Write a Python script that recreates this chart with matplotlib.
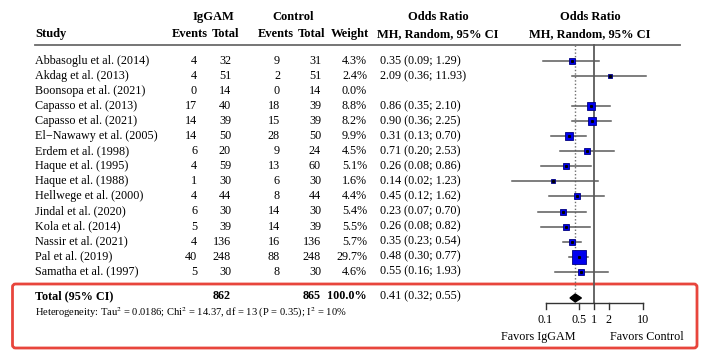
import numpy as np
import matplotlib
matplotlib.use('Agg')
import matplotlib.pyplot as plt
from matplotlib.patches import FancyBboxPatch

# DATA
studies = ['Abbasoglu et al. (2014)', 'Akdag et al. (2013)', 'Boonsopa et al. (2021)',
           'Capasso et al. (2013)', 'Capasso et al. (2021)', 'El\u2212Nawawy et al. (2005)',
           'Erdem et al. (1998)', 'Haque et al. (1995)', 'Haque et al. (1988)',
           'Hellwege et al. (2000)', 'Jindal et al. (2020)', 'Kola et al. (2014)',
           'Nassir et al. (2021)', 'Pal et al. (2019)', 'Samatha et al. (1997)']
ev_ig = [4, 4, 0, 17, 14, 14, 6, 4, 1, 4, 6, 5, 4, 40, 5]
tot_ig = [32, 51, 14, 40, 39, 50, 20, 59, 30, 44, 30, 39, 136, 248, 30]
ev_ct = [9, 2, 0, 18, 15, 28, 9, 13, 6, 8, 14, 14, 16, 88, 8]
tot_ct = [31, 51, 14, 39, 39, 50, 24, 60, 30, 44, 30, 39, 136, 248, 30]
weight = [4.3, 2.4, 0.0, 8.8, 8.2, 9.9, 4.5, 5.1, 1.6, 4.4, 5.4, 5.5, 5.7, 29.7, 4.6]
odds = [0.35, 2.09, np.nan, 0.86, 0.90, 0.31, 0.71, 0.26, 0.14, 0.45, 0.23, 0.26, 0.35, 0.48, 0.55]
ci_lo = [0.09, 0.36, np.nan, 0.35, 0.36, 0.13, 0.20, 0.08, 0.02, 0.12, 0.07, 0.08, 0.23, 0.30, 0.16]
ci_hi = [1.29, 11.93, np.nan, 2.10, 2.25, 0.70, 2.53, 0.86, 1.23, 1.62, 0.70, 0.82, 0.54, 0.77, 1.93]

total_ig = 862
total_ct = 865
pooled = 0.41
pooled_lo = 0.32
pooled_hi = 0.55
het_text = ('Heterogeneity: Tau$^2$ = 0.0186; Chi$^2$ = 14.37, df = 13 (P = 0.35); '
            'I$^2$ = 10%')
axis_ticks = [0.1, 0.5, 1, 2, 10]
axis_labels = ['0.1', '0.5', '1', '2', '10']

# LAYOUT (pixel coordinates, y downwards)
W, H = 704, 354
ROW0 = 61
ROW_DY = 15.05
Y_TOTAL = 296
Y_HET = 313
Y_RULE = 45
Y_AXIS = 303

plt.rcParams['font.family'] = ['Liberation Serif', 'DejaVu Serif']
plt.rcParams['mathtext.fontset'] = 'stix'
FS = 8.7

fig = plt.figure(figsize=(W / 100, H / 100), dpi=100)
ax = fig.add_axes([0, 0, 1, 1])
ax.set_xlim(0, W)
ax.set_ylim(H, 0)
ax.axis('off')

# forest plot axes with log scale: 1 sits at x=594, one decade ~48.5 px
left_px, right_px, one_px, dec_px = 490, 690, 594, 48.5
fx = fig.add_axes([left_px / W, 0, (right_px - left_px) / W, 1])
fx.set_xscale('log')
fx.set_xlim(10 ** (-(one_px - left_px) / dec_px), 10 ** ((right_px - one_px) / dec_px))
fx.set_ylim(H, 0)
fx.axis('off')
fx.patch.set_alpha(0)

# header
hb = dict(fontsize=9, fontweight='bold', va='center')
ax.text(35, 34, 'Study', ha='left', **hb)
ax.text(213, 17, 'IgGAM', ha='center', **hb)
ax.text(190, 34, 'Events', ha='center', **hb)
ax.text(226, 34, 'Total', ha='center', **hb)
ax.text(293, 17, 'Control', ha='center', **hb)
ax.text(276, 34, 'Events', ha='center', **hb)
ax.text(311, 34, 'Total', ha='center', **hb)
ax.text(350, 34, 'Weight', ha='center', **hb)
ax.text(438, 17, 'Odds Ratio', ha='center', **hb)
ax.text(438, 34, 'MH, Random, 95% CI', ha='center', **hb)
ax.text(590, 17, 'Odds Ratio', ha='center', **hb)
ax.text(590, 34, 'MH, Random, 95% CI', ha='center', **hb)
ax.plot([35, 680], [Y_RULE, Y_RULE], color='#6a6a6a', lw=1.3)

# study rows
for i, name in enumerate(studies):
    y = ROW0 + ROW_DY * i
    ax.text(35, y, name, ha='left', va='center', fontsize=FS)
    ax.text(197, y, str(ev_ig[i]), ha='right', va='center', fontsize=FS)
    ax.text(231, y, str(tot_ig[i]), ha='right', va='center', fontsize=FS)
    ax.text(280, y, str(ev_ct[i]), ha='right', va='center', fontsize=FS)
    ax.text(321, y, str(tot_ct[i]), ha='right', va='center', fontsize=FS)
    ax.text(367, y, '%.1f%%' % weight[i], ha='right', va='center', fontsize=FS)
    if not np.isnan(odds[i]):
        ax.text(380, y, '%.2f (%.2f; %.2f)' % (odds[i], ci_lo[i], ci_hi[i]),
                ha='left', va='center', fontsize=FS)
        fx.plot([ci_lo[i], ci_hi[i]], [y, y], color='#5a5a5a', lw=1.1, zorder=2)
        side = 14 * np.sqrt(weight[i] / max(weight)) * 0.72
        fx.plot(odds[i], y, marker='s', ms=side, mfc='#0000ee', mec='#000080',
                mew=0.6, zorder=3)
        fx.plot(odds[i], y, marker='s', ms=1.2, color='black', zorder=4)

# total row
tb = dict(fontsize=FS, fontweight='bold', va='center')
ax.text(35, Y_TOTAL, 'Total (95% CI)', ha='left', **tb)
ax.text(231, Y_TOTAL, str(total_ig), ha='right', **tb)
ax.text(321, Y_TOTAL, str(total_ct), ha='right', **tb)
ax.text(367, Y_TOTAL, '100.0%', ha='right', **tb)
ax.text(380, Y_TOTAL, '%.2f (%.2f; %.2f)' % (pooled, pooled_lo, pooled_hi),
        ha='left', va='center', fontsize=FS)
ax.text(35, Y_HET, het_text, ha='left', va='center', fontsize=7.6)

# reference lines
fx.plot([1, 1], [Y_RULE, Y_AXIS], color='#5a5a5a', lw=1.3, zorder=1)
fx.plot([pooled, pooled], [Y_RULE, Y_TOTAL - 4], color='#6f6f6f', lw=1,
        ls=(0, (1, 1.5)), zorder=1)

# pooled diamond
fx.fill([pooled_lo, pooled, pooled_hi, pooled],
        [Y_TOTAL + 2, Y_TOTAL - 2, Y_TOTAL + 2, Y_TOTAL + 6], color='black', zorder=5)

# x axis
fx.plot([axis_ticks[0], axis_ticks[-1]], [Y_AXIS, Y_AXIS], color='#333333', lw=1)
for t, lab in zip(axis_ticks, axis_labels):
    fx.plot([t, t], [Y_AXIS, Y_AXIS + 6], color='#333333', lw=1)
    fx.text(t, Y_AXIS + 17, lab, ha='center', va='center', fontsize=FS)
ax.text(538, 337, 'Favors IgGAM', ha='center', va='center', fontsize=FS)
ax.text(647, 337, 'Favors Control', ha='center', va='center', fontsize=FS)

# red highlight box
box = FancyBboxPatch((12.5, 284), 684.5, 64, boxstyle='round,pad=0,rounding_size=3',
                     fc='none', ec='#e8453c', lw=2, zorder=10)
ax.add_patch(box)

fig.savefig('out.png', dpi=100)
